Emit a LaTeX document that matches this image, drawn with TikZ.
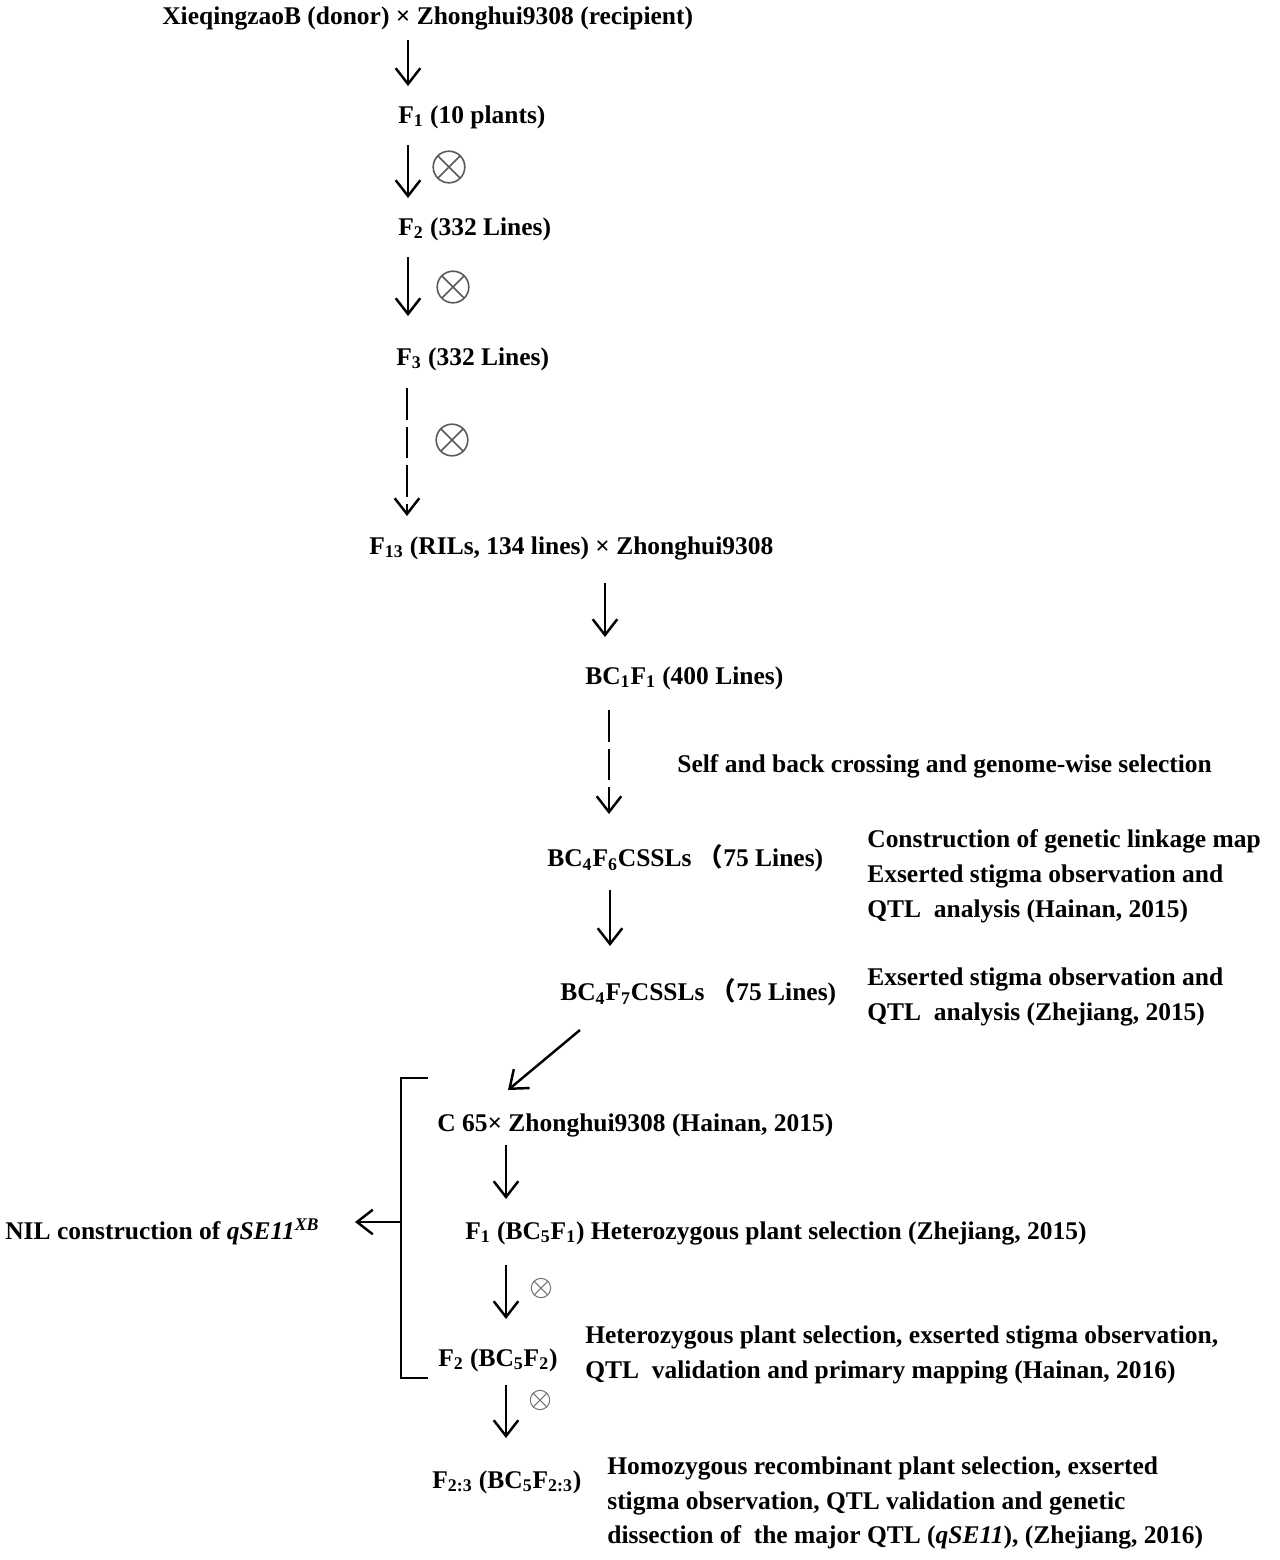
\documentclass[tikz,border=0pt]{standalone}
\usepackage{fontspec}
\setmainfont{Liberation Serif}
\newfontfamily\cjk{Noto Sans CJK SC}
\usetikzlibrary{arrows.meta,calc}
\tikzstyle{stage}=[inner sep=0pt,font=\bfseries\fontsize{14.5}{19.85}\selectfont]
\tikzstyle{note}=[stage,anchor=west,align=left]
\tikzstyle{flow}=[line width=1.4pt,-{Straight Barb[length=9pt,width=14pt]}]
\tikzstyle{dashflow}=[flow,dash pattern=on 18pt off 4pt]
\tikzstyle{bracket}=[line width=1.4pt]
\tikzstyle{selfing}=[circle,draw=black!65,line width=0.9pt,minimum size=18pt,inner sep=0pt,
  path picture={\draw[black!65,line width=0.9pt] (path picture bounding box.south west) -- (path picture bounding box.north east)
  (path picture bounding box.north west) -- (path picture bounding box.south east);}]
\tikzstyle{smallselfing}=[circle,draw=black!55,line width=0.6pt,minimum size=11pt,inner sep=0pt,
  path picture={\draw[black!55,line width=0.6pt] (path picture bounding box.south west) -- (path picture bounding box.north east)
  (path picture bounding box.north west) -- (path picture bounding box.south east);}]
\newcommand{\lo}[1]{\textsubscript{#1}}
\begin{document}
\begin{tikzpicture}[x=0.02cm,y=-0.02cm]
\useasboundingbox (0,0) rectangle (1280,1560);
% main line of crosses
\node[stage,anchor=west] (parents) at (162,18) {XieqingzaoB (donor) × Zhonghui9308 (recipient)};
\node[stage,anchor=west] (f1) at (398,117) {F\lo{1} (10 plants)};
\node[stage,anchor=west] (f2) at (398,229) {F\lo{2} (332 Lines)};
\node[stage,anchor=west] (f3) at (396,359) {F\lo{3} (332 Lines)};
\node[stage,anchor=west] (ril) at (369,548) {F\lo{13} (RILs, 134 lines) × Zhonghui9308};
\node[stage,anchor=west] (bc1) at (585,678) {BC\lo{1}F\lo{1} (400 Lines)};
\node[stage,anchor=west] (bc4f6) at (547,858) {BC\lo{4}F\lo{6}CSSLs {\cjk（}75 Lines)};
\node[stage,anchor=west] (bc4f7) at (560,992) {BC\lo{4}F\lo{7}CSSLs {\cjk（}75 Lines)};
\node[stage,anchor=west] (c65) at (437,1125) {C 65× Zhonghui9308 (Hainan, 2015)};
\node[stage,anchor=west] (bc5f1) at (465,1233) {F\lo{1} (BC\lo{5}F\lo{1}) Heterozygous plant selection (Zhejiang, 2015)};
\node[stage,anchor=west] (bc5f2) at (438,1360) {F\lo{2} (BC\lo{5}F\lo{2})};
\node[stage,anchor=west] (bc5f23) at (432,1482) {F\lo{2:3} (BC\lo{5}F\lo{2:3})};
\node[stage,anchor=west] (nil) at (5,1232) {NIL construction of \textit{qSE11}\textsuperscript{\textit{XB}}};
% notes on the right
\node[note] (selnote) at (677,766) {Self and back crossing and genome-wise selection};
\node[note] (hainan15) at (867,876) {Construction of genetic linkage map\\Exserted stigma observation and\\QTL\ \ analysis (Hainan, 2015)};
\node[note] (zhejiang15) at (867,997) {Exserted stigma observation and\\QTL\ \ analysis (Zhejiang, 2015)};
\node[note] (hainan16) at (585,1355) {Heterozygous plant selection, exserted stigma observation,\\QTL\ \ validation and primary mapping (Hainan, 2016)};
\node[note] (zhejiang16) at (607,1503) {Homozygous recombinant plant selection, exserted\\stigma observation, QTL validation and genetic\\dissection of\ \ the major QTL (\textit{qSE11}), (Zhejiang, 2016)};
% selfing marks
\node[selfing] (s1) at (449,167) {};
\node[selfing] (s2) at (453,287) {};
\node[selfing] (s3) at (452,440) {};
\node[smallselfing] (s4) at (541,1288) {};
\node[smallselfing] (s5) at (540,1400) {};
% arrow ends
\coordinate (a1s) at (408,40);   \coordinate (a1e) at (408,86);
\coordinate (a2s) at (408,145);  \coordinate (a2e) at (408,198);
\coordinate (a3s) at (408,257);  \coordinate (a3e) at (408,316);
\coordinate (a4s) at (407,388);  \coordinate (a4e) at (407,516);
\coordinate (a5s) at (605,583);  \coordinate (a5e) at (605,637);
\coordinate (a6s) at (609,710);  \coordinate (a6e) at (609,814);
\coordinate (a7s) at (610,890);  \coordinate (a7e) at (610,946);
\coordinate (a8s) at (580,1030); \coordinate (a8e) at (508,1090);
\coordinate (a9s) at (506,1145); \coordinate (a9e) at (506,1199);
\coordinate (a10s) at (506,1265); \coordinate (a10e) at (506,1319);
\coordinate (a11s) at (506,1385); \coordinate (a11e) at (506,1438);
\draw[flow] (a1s) -- (a1e);
\draw[flow] (a2s) -- (a2e);
\draw[flow] (a3s) -- (a3e);
\draw[dashflow] (a4s) -- (a4e);
\draw[flow] (a5s) -- (a5e);
\draw[dashflow] (a6s) -- (a6e);
\draw[flow] (a7s) -- (a7e);
\draw[flow] (a8s) -- (a8e);
\draw[flow] (a9s) -- (a9e);
\draw[flow] (a10s) -- (a10e);
\draw[flow] (a11s) -- (a11e);
% bracket round the NIL steps
\coordinate (brtop) at (428,1078);
\coordinate (brbot) at (428,1378);
\coordinate (brmid) at (401,1222);
\coordinate (nilend) at (355,1222);
\draw[bracket] (brtop) -- (401,1078) -- (401,1378) -- (brbot);
\draw[flow] (brmid) -- (nilend);
\end{tikzpicture}
\end{document}
